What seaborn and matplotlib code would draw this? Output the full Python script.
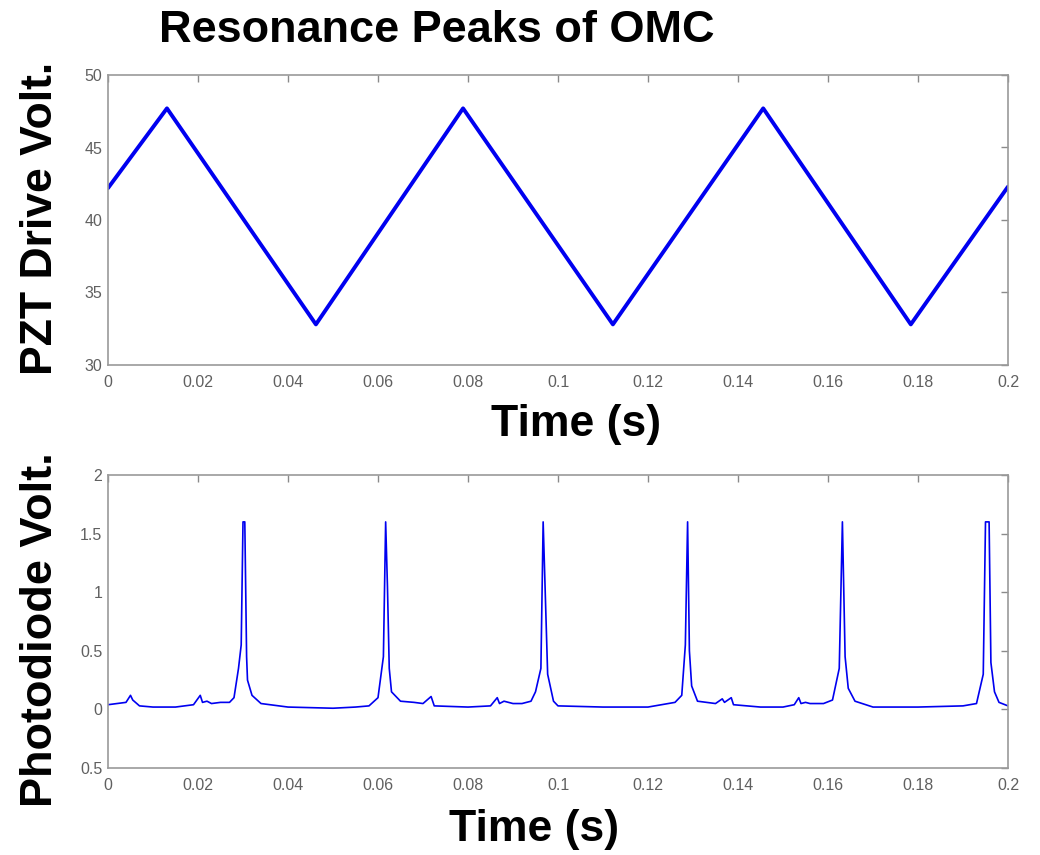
import matplotlib
matplotlib.use("Agg")
import matplotlib.pyplot as plt
import seaborn as sns
import pandas as pd

# ---- data ----
pzt_time = [0.0, 0.0131, 0.0462, 0.0789, 0.1122, 0.1456, 0.1784, 0.2]
pzt_volt = [42.2, 47.7, 32.8, 47.7, 32.8, 47.7, 32.8, 42.3]

pd_time = [0.000, 0.002, 0.004, 0.005, 0.0055, 0.007, 0.010, 0.015, 0.019, 0.0205,
           0.021, 0.022, 0.023, 0.025, 0.027, 0.028, 0.029, 0.0296, 0.0300, 0.0304,
           0.0308, 0.031, 0.032, 0.034, 0.040, 0.050, 0.055, 0.058, 0.060, 0.0612,
           0.0617, 0.0621, 0.0625, 0.063, 0.065, 0.068, 0.070, 0.0718, 0.0725, 0.080,
           0.085, 0.0865, 0.087, 0.088, 0.090, 0.092, 0.094, 0.095, 0.0962, 0.0967,
           0.0972, 0.0977, 0.099, 0.100, 0.110, 0.120, 0.126, 0.1275, 0.1283, 0.1288,
           0.1292, 0.1297, 0.131, 0.135, 0.1365, 0.137, 0.1385, 0.139, 0.145, 0.150,
           0.1525, 0.1535, 0.154, 0.155, 0.156, 0.159, 0.161, 0.1625, 0.1632, 0.1638,
           0.1645, 0.166, 0.170, 0.180, 0.190, 0.193, 0.1945, 0.1950, 0.1958, 0.1962,
           0.1970, 0.198, 0.200]
pd_volt = [0.04, 0.05, 0.06, 0.12, 0.08, 0.03, 0.02, 0.02, 0.04, 0.12,
           0.06, 0.07, 0.05, 0.06, 0.06, 0.10, 0.35, 0.55, 1.60, 1.60,
           0.45, 0.25, 0.12, 0.05, 0.02, 0.01, 0.02, 0.03, 0.10, 0.45,
           1.60, 1.05, 0.35, 0.15, 0.07, 0.06, 0.05, 0.11, 0.03, 0.02,
           0.03, 0.10, 0.05, 0.07, 0.05, 0.05, 0.07, 0.15, 0.35, 1.60,
           0.95, 0.30, 0.07, 0.03, 0.02, 0.02, 0.06, 0.12, 0.55, 1.60,
           0.50, 0.20, 0.07, 0.05, 0.09, 0.06, 0.10, 0.04, 0.02, 0.02,
           0.04, 0.10, 0.05, 0.06, 0.05, 0.05, 0.08, 0.35, 1.60, 0.45,
           0.18, 0.07, 0.02, 0.02, 0.03, 0.05, 0.30, 1.60, 1.60, 0.40,
           0.15, 0.06, 0.03]

x_ticks = [0, 0.02, 0.04, 0.06, 0.08, 0.1, 0.12, 0.14, 0.16, 0.18, 0.2]
x_tick_labels = ["0", "0.02", "0.04", "0.06", "0.08", "0.1", "0.12", "0.14", "0.16", "0.18", "0.2"]
top_y_ticks = [30, 35, 40, 45, 50]
top_y_tick_labels = ["30", "35", "40", "45", "50"]
bot_y_ticks = [-0.5, 0, 0.5, 1, 1.5, 2]
bot_y_tick_labels = ["0.5", "0", "0.5", "1", "1.5", "2"]

title_text = "Resonance Peaks of OMC"
top_ylabel = "PZT Drive Volt."
bot_ylabel = "Photodiode Volt."
xlabel_text = "Time (s)"

# ---- styling ----
sns.set_style("white")
plt.rcParams['font.family'] = ['Liberation Sans', 'DejaVu Sans']

W, H = 1040, 855
fig = plt.figure(figsize=(W / 100, H / 100), dpi=100)

def ax_rect(l, t, r, b):
    return [l / W, 1 - b / H, (r - l) / W, (b - t) / H]

ax1 = fig.add_axes(ax_rect(108, 75, 1008, 365))
ax2 = fig.add_axes(ax_rect(108, 475, 1008, 768))

blue = "#0000f0"
df1 = pd.DataFrame({"t": pzt_time, "v": pzt_volt})
df2 = pd.DataFrame({"t": pd_time, "v": pd_volt})
sns.lineplot(data=df1, x="t", y="v", ax=ax1, color=blue, linewidth=2.8,
             estimator=None, sort=False)
sns.lineplot(data=df2, x="t", y="v", ax=ax2, color=blue, linewidth=1.2,
             estimator=None, sort=False)

for ax, yt, ytl, ylim in [(ax1, top_y_ticks, top_y_tick_labels, (30, 50)),
                          (ax2, bot_y_ticks, bot_y_tick_labels, (-0.5, 2))]:
    ax.set_xlim(0, 0.2)
    ax.set_ylim(*ylim)
    ax.set_xticks(x_ticks)
    ax.set_xticklabels(x_tick_labels)
    ax.set_yticks(yt)
    ax.set_yticklabels(ytl)
    ax.set_xlabel("")
    ax.set_ylabel("")
    for s in ax.spines.values():
        s.set_color("#9a9a9a")
        s.set_linewidth(1.2)
    ax.tick_params(axis="both", direction="in", length=5, width=1.0,
                   color="#8a8a8a", labelcolor="#606060", labelsize=11.5,
                   top=True, right=True)
    ax.tick_params(axis="x", pad=7)
    ax.tick_params(axis="y", pad=4)

fig.text(437 / W, 1 - 30 / H, title_text, ha="center", va="center",
         fontsize=32.5, fontweight="bold", color="black")
fig.text(41 / W, 1 - 218 / H, top_ylabel, rotation=90, ha="center", va="center",
         fontsize=32, fontweight="bold", color="black")
fig.text(41 / W, 1 - 630 / H, bot_ylabel, rotation=90, ha="center", va="center",
         fontsize=32.5, fontweight="bold", color="black")
fig.text(576 / W, 1 - 424 / H, xlabel_text, ha="center", va="center",
         fontsize=32, fontweight="bold", color="black")
fig.text(534 / W, 1 - 829 / H, xlabel_text, ha="center", va="center",
         fontsize=32, fontweight="bold", color="black")

fig.savefig("out.png", dpi=100, facecolor="white")
